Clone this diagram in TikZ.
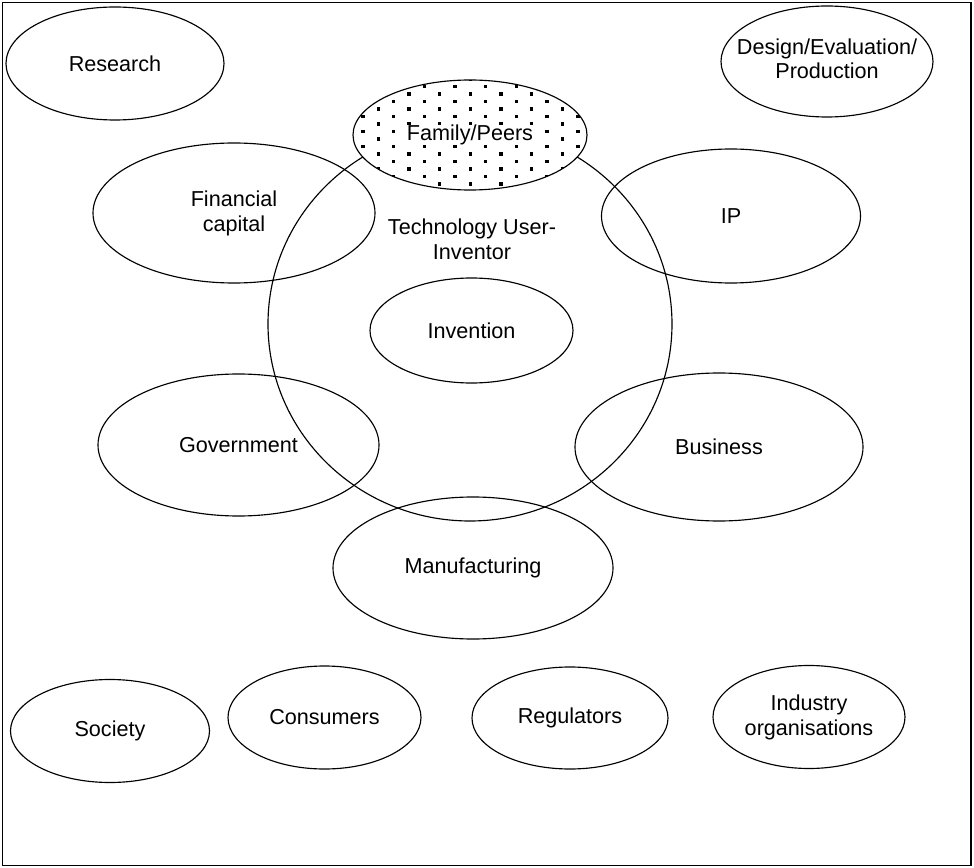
\documentclass[tikz,border=0pt]{standalone}
\usepackage{fontspec}
\setmainfont{Liberation Sans}
\usetikzlibrary{shapes.geometric}

\tikzset{
  oval/.style 2 args={ellipse,draw,line width=0.65pt,inner sep=0pt,align=center,
    minimum width=#1*0.02cm,minimum height=#2*0.02cm},
}

\begin{document}
\begin{tikzpicture}[x=0.02cm,y=-0.02cm,font=\fontsize{12.3}{14.2}\selectfont]
\useasboundingbox (0,0) rectangle (974,868);
\draw[line width=1.1pt] (2.5,2.5) rectangle (971,865.5);

% user-inventor circle goes first, the rest overlaps it
\node[oval={404}{394}] (tui) at (470,324) {};
\node[align=center,inner sep=0pt] (tuitxt) at (472,239.5) {Technology User-\\Inventor};
\node[oval={203}{105}] (invention) at (471.5,330.5) {Invention};

% family/peers: white fill, dotted
\node[oval={234}{110},fill=white] (family) at (470,135) {};
\begin{scope}
  \clip (family.center) ellipse [x radius=117,y radius=55];
  \foreach \j in {-1,...,15}
    \foreach \k in {-4,...,6}{
      \pgfmathsetmacro\dx{424.3+30.7*\k+15.35*mod(\j,2)}
      \pgfmathsetmacro\dy{86.7+7.5*\j}
      \fill (\dx-1.7,\dy-1.7) rectangle +(3.4,3.4);
    }
\end{scope}
\node[fill=white,inner sep=0pt] (familytxt) at (family.center) {Family/Peers};

% corners
\node[oval={218}{113}] (research) at (115,63.5) {Research};
\node[oval={212}{111}] (design) at (827,61.5)
  {\makebox[0pt]{\begin{tabular}{@{}c@{}}Design/Evaluation/\\Production\end{tabular}}};

% ring around the circle
\node[oval={282}{140}] (capital) at (234,213) {Financial\\capital};
\node[oval={259}{134}] (ip) at (731,216) {IP};
\node[oval={281}{142}] (gov) at (238.5,445) {Government};
\node[oval={288}{148}] (business) at (719,447) {Business};
\node[oval={280}{142}] (manuf) at (473,568) {Manufacturing};

% bottom row
\node[oval={199}{103}] (society) at (110,731) {Society};
\node[oval={193}{103}] (consumers) at (324.5,717.5) {Consumers};
\node[oval={196}{102}] (regulators) at (570,718) {Regulators};
\node[oval={192}{103}] (industry) at (809,717) {Industry\\organisations};
\end{tikzpicture}
\end{document}
